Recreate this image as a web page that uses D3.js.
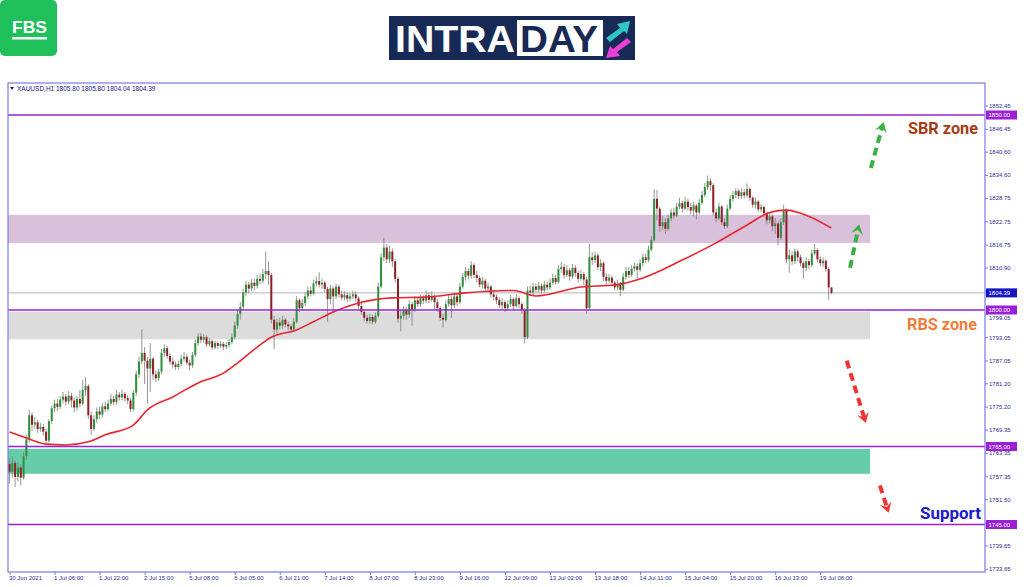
<!DOCTYPE html>
<html>
<head>
<meta charset="utf-8">
<script src="https://cdn.jsdelivr.net/npm/d3@7"></script>
<style>
  body { margin: 0; background: #fff; }
  svg { display: block; font-family: "Liberation Sans", Arial, sans-serif; }
</style>
</head>
<body>
<svg id="chart" width="1024" height="587"></svg>
<script>
//----------------data (XAUUSD H1)--------------//
const firstOpen = 1760.5;
const closes = [
  1758.5,1760.8,1757.2,1759.6,1757.0,1762.5,1766.8,1773.0,1770.6,1771.2,
  1769.5,1770.0,1768.8,1766.5,1771.5,1774.8,1776.0,1775.2,1777.0,1777.8,
  1776.5,1778.0,1776.8,1775.0,1777.2,1776.0,1779.5,1780.5,1773.0,1769.5,
  1772.0,1774.0,1773.2,1775.3,1774.6,1776.0,1777.2,1776.4,1778.3,1777.6,
  1778.5,1777.4,1776.8,1774.6,1778.8,1783.5,1786.8,1789.0,1787.0,1785.0,
  1787.5,1783.5,1782.5,1784.2,1789.0,1790.2,1788.2,1786.8,1786.0,1785.4,
  1786.2,1787.5,1788.0,1786.5,1785.8,1788.5,1791.5,1793.2,1792.4,1793.0,
  1791.2,1792.0,1790.4,1791.5,1790.8,1791.3,1790.6,1791.0,1791.8,1793.0,
  1796.0,1799.0,1800.8,1804.5,1806.5,1805.5,1807.0,1806.2,1808.0,1807.5,
  1809.2,1810.0,1809.0,1797.5,1795.0,1796.8,1796.0,1797.5,1796.3,1795.8,
  1795.0,1797.0,1802.5,1800.5,1801.8,1803.5,1805.0,1804.2,1806.8,1807.4,
  1806.5,1807.0,1805.4,1802.8,1805.5,1803.5,1806.0,1804.0,1803.2,1803.8,
  1802.9,1803.5,1804.0,1803.0,1801.0,1799.5,1798.0,1797.2,1798.2,1797.0,
  1798.5,1806.0,1813.5,1816.0,1813.0,1815.0,1812.5,1808.0,1797.8,1798.5,
  1800.0,1798.8,1801.5,1800.2,1802.5,1801.5,1803.0,1802.4,1803.8,1802.6,
  1803.5,1802.0,1800.5,1798.0,1797.5,1801.5,1802.8,1801.2,1803.5,1802.0,
  1806.0,1808.5,1810.0,1808.8,1811.5,1809.0,1808.2,1806.5,1807.5,1805.5,
  1806.0,1804.0,1803.4,1802.5,1801.2,1802.0,1800.5,1801.5,1802.8,1801.0,
  1803.0,1801.5,1800.0,1793.0,1805.0,1804.5,1806.0,1805.2,1806.2,1805.0,
  1806.5,1805.8,1807.0,1808.2,1807.2,1810.5,1811.0,1809.0,1810.2,1808.6,
  1810.8,1809.5,1808.0,1809.2,1807.8,1800.5,1813.5,1812.8,1814.0,1811.0,
  1812.0,1808.5,1807.5,1808.3,1807.0,1805.8,1806.8,1805.2,1808.5,1810.0,
  1809.0,1810.6,1811.2,1810.3,1812.0,1813.5,1812.8,1815.5,1818.0,1828.5,
  1826.0,1821.5,1822.5,1820.8,1823.5,1825.0,1824.2,1826.5,1827.4,1826.0,
  1827.8,1826.4,1825.5,1826.8,1825.0,1827.5,1829.5,1831.5,1833.0,1832.0,
  1825.0,1823.5,1826.5,1822.5,1821.5,1826.0,1828.5,1829.5,1830.5,1829.2,
  1830.2,1829.4,1831.0,1828.8,1827.0,1827.8,1825.8,1826.4,1824.8,1823.0,
  1824.0,1821.5,1822.2,1818.5,1822.5,1825.5,1813.0,1814.0,1812.5,1815.0,
  1813.5,1812.0,1810.8,1812.5,1811.5,1814.5,1815.4,1813.0,1812.0,1812.6,
  1810.5,1805.8,1804.39
];
const highs = [
  1762.0,1762.5,1761.5,1761.0,1760.5,1763.5,1768.0,1774.4,1773.8,1772.5,
  1771.8,1771.0,1770.8,1769.5,1772.0,1775.5,1777.0,1777.2,1778.0,1779.0,
  1778.5,1779.2,1778.8,1777.5,1778.0,1779.5,1782.0,1782.8,1781.0,1774.0,
  1773.0,1775.0,1775.2,1776.2,1776.5,1777.0,1778.5,1778.0,1779.5,1779.0,
  1779.6,1779.0,1778.2,1777.5,1779.5,1784.5,1788.0,1795.0,1790.5,1788.0,
  1791.5,1788.0,1784.5,1785.0,1790.0,1791.2,1790.8,1789.0,1787.8,1786.8,
  1787.0,1788.5,1789.2,1788.6,1787.2,1789.2,1792.5,1794.0,1794.0,1793.8,
  1793.5,1792.8,1792.5,1792.2,1792.0,1792.0,1791.8,1791.8,1792.5,1794.0,
  1797.0,1800.0,1802.0,1805.5,1807.5,1807.2,1808.0,1808.0,1809.0,1809.3,
  1810.5,1815.0,1812.5,1809.5,1798.5,1797.8,1798.0,1798.5,1798.0,1797.0,
  1796.5,1798.0,1803.5,1803.0,1802.8,1804.5,1806.0,1806.0,1807.8,1808.5,
  1809.7,1808.0,1807.5,1806.0,1806.5,1806.0,1806.8,1806.5,1805.0,1804.8,
  1804.5,1804.3,1805.0,1804.8,1803.5,1801.8,1800.2,1798.8,1799.0,1798.8,
  1799.3,1807.0,1814.5,1818.5,1817.0,1816.5,1815.8,1813.0,1808.5,1800.0,
  1801.0,1800.8,1802.5,1802.0,1803.5,1803.2,1804.0,1803.8,1805.0,1804.5,
  1804.8,1804.0,1802.8,1801.0,1799.0,1802.5,1803.8,1803.5,1804.5,1804.0,
  1807.0,1809.5,1811.0,1810.8,1812.5,1812.0,1810.0,1808.8,1808.5,1808.0,
  1807.0,1806.5,1805.0,1804.0,1803.2,1803.0,1802.5,1802.5,1803.8,1803.2,
  1804.0,1803.5,1802.0,1800.5,1806.0,1806.2,1807.0,1806.8,1807.2,1806.8,
  1807.5,1807.2,1808.0,1809.2,1809.0,1811.5,1812.3,1811.8,1811.5,1810.8,
  1811.8,1811.5,1810.0,1810.2,1809.8,1808.5,1817.0,1814.8,1815.0,1814.5,
  1813.0,1812.5,1809.5,1809.2,1808.8,1807.5,1807.8,1807.2,1809.5,1811.0,
  1811.0,1811.5,1812.2,1812.0,1813.0,1814.5,1814.5,1816.5,1819.0,1831.0,
  1830.8,1826.5,1824.0,1823.5,1824.5,1826.0,1826.2,1827.5,1828.8,1828.0,
  1829.0,1828.5,1827.5,1827.8,1827.2,1828.5,1830.5,1832.5,1834.5,1833.8,
  1832.5,1826.0,1827.5,1827.0,1823.5,1827.0,1829.5,1830.5,1831.2,1831.0,
  1831.2,1831.0,1832.5,1831.5,1829.2,1828.8,1828.2,1827.2,1826.8,1825.2,
  1825.0,1824.5,1823.5,1822.8,1823.5,1827.0,1826.0,1815.5,1815.0,1815.8,
  1815.5,1814.2,1812.5,1813.5,1813.2,1815.5,1817.0,1815.8,1813.8,1813.5,
  1813.0,1811.0,1805.8
];
const lows = [
  1755.5,1757.0,1754.6,1756.0,1755.0,1756.5,1761.5,1766.0,1769.0,1769.5,
  1768.5,1768.8,1767.8,1765.8,1766.0,1770.8,1773.8,1774.0,1774.5,1776.0,
  1775.5,1775.8,1775.0,1773.8,1774.2,1775.0,1775.5,1778.0,1772.0,1768.0,
  1769.0,1771.0,1772.0,1772.5,1773.8,1774.0,1775.5,1775.6,1775.8,1776.8,
  1776.8,1776.5,1775.8,1773.8,1774.0,1778.0,1782.5,1786.0,1781.0,1776.0,
  1779.0,1782.0,1781.5,1781.8,1783.5,1788.0,1787.5,1786.0,1785.0,1784.6,
  1784.8,1785.5,1786.8,1785.8,1784.5,1785.2,1788.0,1790.8,1791.5,1791.6,
  1790.5,1790.6,1789.8,1790.0,1790.0,1790.2,1789.8,1790.0,1790.4,1791.2,
  1792.5,1795.2,1797.5,1800.0,1803.5,1804.3,1804.8,1805.0,1805.5,1806.5,
  1806.8,1808.0,1806.5,1796.5,1790.0,1794.0,1795.0,1795.2,1795.5,1794.8,
  1794.2,1794.5,1796.5,1799.5,1799.8,1801.0,1802.8,1803.5,1803.8,1806.0,
  1805.8,1805.5,1804.5,1797.0,1801.5,1799.5,1802.8,1803.2,1802.5,1802.5,
  1802.0,1802.2,1802.8,1802.2,1800.2,1798.8,1797.2,1796.5,1796.5,1796.3,
  1796.5,1798.0,1805.5,1812.5,1812.0,1812.0,1811.0,1807.0,1796.8,1794.5,
  1797.5,1797.5,1798.0,1796.0,1799.5,1800.8,1800.8,1801.5,1801.8,1801.8,
  1802.0,1800.0,1799.5,1797.2,1795.5,1797.0,1800.8,1798.0,1800.5,1801.0,
  1801.5,1805.5,1807.5,1807.8,1808.0,1808.2,1807.0,1805.8,1805.5,1804.8,
  1804.5,1803.2,1802.5,1801.5,1800.5,1800.2,1799.5,1799.8,1800.8,1800.0,
  1800.5,1800.5,1799.0,1791.5,1792.5,1803.5,1803.8,1804.5,1804.5,1804.2,
  1804.5,1805.0,1805.2,1806.5,1806.5,1806.8,1809.5,1808.0,1808.5,1807.5,
  1808.0,1808.5,1807.0,1807.5,1806.5,1799.0,1800.0,1811.5,1812.0,1810.2,
  1810.0,1807.5,1806.5,1806.8,1806.0,1805.0,1805.0,1803.5,1804.8,1807.8,
  1808.2,1808.5,1809.8,1808.0,1809.8,1811.2,1812.0,1812.2,1815.0,1817.5,
  1823.0,1820.0,1820.5,1819.5,1820.2,1822.8,1823.5,1823.8,1825.8,1825.0,
  1825.5,1825.5,1824.5,1824.0,1823.2,1824.5,1827.0,1829.0,1830.8,1830.5,
  1824.2,1822.5,1823.0,1821.8,1820.8,1821.0,1825.5,1827.8,1828.8,1828.5,
  1828.5,1828.6,1828.8,1828.0,1826.2,1826.0,1825.0,1825.0,1823.8,1822.0,
  1822.2,1820.2,1819.5,1816.5,1818.0,1821.8,1812.0,1809.5,1811.5,1811.8,
  1812.5,1811.2,1808.0,1810.0,1810.5,1811.0,1814.0,1812.2,1811.2,1811.0,
  1809.8,1802.5,1804.04
];

// moving average read at a few bars (bar index, value)
const maBars   = [0, 6, 13, 20, 28, 34, 44, 49, 58, 67, 76, 81, 88, 93, 102, 108, 115, 124, 136, 148, 162, 179, 187, 203, 215, 225, 239, 251, 262, 270, 276, 284, 292];
const maValues = [1768.7,1767.2,1765.6,1765.4,1766.2,1768.0,1770.5,1774.4,1777.7,1781.3,1783.8,1786.4,1790.5,1793.0,1794.9,1797.0,1799.5,1801.8,1803.1,1803.3,1804.4,1805.0,1803.6,1805.9,1806.4,1808.2,1812.8,1817.2,1821.8,1825.0,1825.6,1824.0,1821.0];

const timeLabels = ["30 Jun 2021","1 Jul 06:00","1 Jul 22:00","2 Jul 15:00","5 Jul 08:00","6 Jul 05:00","6 Jul 21:00","7 Jul 14:00","8 Jul 07:00","8 Jul 23:00","9 Jul 16:00","12 Jul 09:00","13 Jul 02:00","13 Jul 18:00","14 Jul 11:00","15 Jul 04:00","15 Jul 20:00","16 Jul 13:00","19 Jul 06:00"];
const priceTicks = [1852.45,1846.45,1840.60,1834.60,1828.75,1822.75,1816.75,1810.90,1805.05,1799.05,1793.05,1787.05,1781.20,1775.20,1769.35,1763.35,1757.35,1751.50,1745.50,1739.65,1733.65];
const hiddenTicks = [1805.05, 1745.50]; // sit fully under a price box
const levels = [1850, 1800, 1765, 1745];
const lastPrice = 1804.39;
const sbrZone = [1817.2, 1824.4];
const rbsZone = [1792.5, 1799.6];
const supportZone = [1758.0, 1764.4];

//----------------layout--------------//
const svg = d3.select("#chart");
const frameL = 8, frameR = 985, frameT = 83, frameB = 572;
const zoneRight = 870;
const N = closes.length;
const opens = closes.map((c, i) => i === 0 ? firstOpen : closes[i - 1]);

const x = d3.scaleLinear().domain([0, 292]).range([9.5, 831.5]);
const y = d3.scaleLinear().domain([1800, 1850]).range([310, 115]);

const frameColor = "#7b7be0";
const levelColor = "#9b1fd8";
const textBlue = "#2e2e8f";

svg.append("clipPath").attr("id", "plotClip")
  .append("rect").attr("x", frameL).attr("y", frameT).attr("width", frameR - frameL).attr("height", frameB - frameT);
const plot = svg.append("g").attr("clip-path", "url(#plotClip)");

//----------------zones--------------//
const zones = [
  { r: sbrZone, fill: "#d9c0db" },
  { r: rbsZone, fill: "#dcdcdc" },
  { r: supportZone, fill: "#66cdaa" }
];
plot.selectAll("rect.zone").data(zones).join("rect")
  .attr("class", "zone")
  .attr("x", frameL)
  .attr("width", zoneRight - frameL)
  .attr("y", d => y(d.r[1]))
  .attr("height", d => y(d.r[0]) - y(d.r[1]))
  .attr("fill", d => d.fill);

// last price line
plot.append("line")
  .attr("x1", frameL).attr("x2", frameR)
  .attr("y1", y(lastPrice)).attr("y2", y(lastPrice))
  .attr("stroke", "#b4b4b4").attr("stroke-width", 1);

//----------------candles--------------//
const bars = plot.append("g").selectAll("g").data(d3.range(N)).join("g");
bars.append("line")
  .attr("x1", i => x(i)).attr("x2", i => x(i))
  .attr("y1", i => y(highs[i])).attr("y2", i => y(lows[i]))
  .attr("stroke", "#7a7a7a").attr("stroke-width", 0.8);
bars.append("rect")
  .attr("x", i => x(i) - 1)
  .attr("width", 2)
  .attr("y", i => y(Math.max(opens[i], closes[i])))
  .attr("height", i => Math.max(1, Math.abs(y(opens[i]) - y(closes[i]))))
  .attr("fill", i => closes[i] >= opens[i] ? "#2f8f3a" : "#8e1f24");

//----------------moving average--------------//
const maLine = d3.line().x(d => x(d[0])).y(d => y(d[1])).curve(d3.curveMonotoneX);
plot.append("path")
  .datum(maBars.map((b, i) => [b, maValues[i]]))
  .attr("d", maLine)
  .attr("fill", "none").attr("stroke", "#e8262e").attr("stroke-width", 1.6);

// horizontal levels
plot.selectAll("line.level").data(levels).join("line")
  .attr("class", "level")
  .attr("x1", frameL).attr("x2", frameR)
  .attr("y1", d => y(d)).attr("y2", d => y(d))
  .attr("stroke", levelColor).attr("stroke-width", 1.5);

//----------------axes & frame--------------//
svg.append("rect")
  .attr("x", frameL).attr("y", frameT)
  .attr("width", frameR - frameL).attr("height", frameB - frameT)
  .attr("fill", "none").attr("stroke", frameColor).attr("stroke-width", 1.2);

const yAxis = svg.append("g")
  .attr("transform", `translate(${frameR},0)`)
  .call(d3.axisRight(y).tickValues(priceTicks)
    .tickFormat(d => hiddenTicks.includes(d) ? "" : d3.format(".2f")(d))
    .tickSize(3).tickPadding(1));
const xAxis = svg.append("g")
  .attr("transform", `translate(0,${frameB})`)
  .call(d3.axisBottom(x).tickValues(d3.range(0, 289, 16)).tickFormat((d, i) => timeLabels[i]).tickSize(3).tickPadding(1));

[yAxis, xAxis].forEach(ax => {
  ax.select(".domain").remove();
  ax.selectAll(".tick line").attr("stroke", frameColor);
  ax.selectAll(".tick text").attr("fill", textBlue).attr("font-size", 6)
    .attr("font-family", "'Liberation Sans', Arial, sans-serif");
});
xAxis.selectAll(".tick text").attr("text-anchor", "start").attr("dx", -1);
// 1799.05 peeks out just under the 1800 box
yAxis.selectAll(".tick").filter(d => d === 1799.05).select("text").attr("dy", "0.95em");

// price boxes on the axis
const boxes = levels.map(v => ({ v, fill: levelColor, label: v.toFixed(2) }))
  .concat([{ v: lastPrice, fill: "#1414c8", label: lastPrice.toFixed(2) }]);
const boxG = svg.selectAll("g.pbox").data(boxes).join("g").attr("class", "pbox")
  .attr("transform", d => `translate(${frameR + 1},${y(d.v)})`);
boxG.append("rect").attr("x", 0).attr("y", -4.5).attr("width", 31).attr("height", 9).attr("fill", d => d.fill);
boxG.append("text").attr("x", 2.5).attr("y", 2.2).attr("font-size", 6).attr("fill", "#fff").text(d => d.label);

// header line
svg.append("path").attr("d", "M10,87 L14,87 L12,90 Z").attr("fill", "#1a1a80");
svg.append("text").attr("x", 17).attr("y", 91).attr("font-size", 6.5).attr("fill", "#1a1a80")
  .text("XAUUSD,H1  1805.80 1805.80 1804.04 1804.39");

//----------------annotations--------------//
const zoneLabels = [
  { text: "SBR zone", x: 908, y: 134, color: "#a83a12" },
  { text: "RBS zone", x: 907, y: 330, color: "#f27c38" },
  { text: "Support", x: 920, y: 519, color: "#1a1acc" }
];
svg.selectAll("text.zl").data(zoneLabels).join("text")
  .attr("class", "zl")
  .attr("x", d => d.x).attr("y", d => d.y)
  .attr("font-size", 17).attr("font-weight", "bold")
  .attr("font-family", "Roboto, 'Liberation Sans', sans-serif")
  .attr("textLength", d => d.text === "Support" ? 61 : 70)
  .attr("lengthAdjust", "spacingAndGlyphs")
  .attr("fill", d => d.color)
  .text(d => d.text);

// dashed arrows, ends given in (bar, price)
const arrows = [
  { from: [306, 1836.4], to: [310.5, 1848.2], color: "#3bb043" },
  { from: [298.6, 1810.8], to: [301.8, 1822.0], color: "#3bb043" },
  { from: [297.4, 1787.0], to: [304.2, 1771.0], color: "#ee3333" },
  { from: [309.2, 1755.0], to: [312.3, 1748.0], color: "#ee3333" }
];
arrows.forEach(a => {
  const x1 = x(a.from[0]), y1 = y(a.from[1]), x2 = x(a.to[0]), y2 = y(a.to[1]);
  const len = Math.hypot(x2 - x1, y2 - y1);
  const ux = (x2 - x1) / len, uy = (y2 - y1) / len;
  const px = -uy, py = ux;
  svg.append("line")
    .attr("x1", x1).attr("y1", y1)
    .attr("x2", x2 - ux * 6).attr("y2", y2 - uy * 6)
    .attr("stroke", a.color).attr("stroke-width", 4)
    .attr("stroke-dasharray", "8,5");
  const pts = [
    [x2, y2],
    [x2 - ux * 10 + px * 6, y2 - uy * 10 + py * 6],
    [x2 - ux * 6, y2 - uy * 6],
    [x2 - ux * 10 - px * 6, y2 - uy * 10 - py * 6]
  ];
  svg.append("polygon").attr("points", pts.map(p => p.join(",")).join(" ")).attr("fill", a.color);
});

//----------------logos--------------//
svg.append("rect").attr("x", 0).attr("y", 0).attr("width", 57).attr("height", 56).attr("rx", 5).attr("fill", "#1fbf5a");
svg.append("text").attr("x", 12).attr("y", 33).attr("font-size", 17).attr("font-weight", "bold")
  .attr("fill", "#fff").attr("textLength", 35).attr("lengthAdjust", "spacingAndGlyphs").text("FBS");
svg.append("rect").attr("x", 12).attr("y", 37).attr("width", 35).attr("height", 2.5).attr("fill", "#fff");

const banner = svg.append("g");
banner.append("rect").attr("x", 389).attr("y", 16).attr("width", 246).attr("height", 44).attr("fill", "#172a56");
banner.append("text").attr("x", 395).attr("y", 52).attr("font-size", 36).attr("font-weight", "bold")
  .attr("fill", "#fff").attr("textLength", 120).attr("lengthAdjust", "spacingAndGlyphs").text("INTRA");
banner.append("rect").attr("x", 517).attr("y", 20).attr("width", 86).attr("height", 36).attr("fill", "#fff");
banner.append("text").attr("x", 520).attr("y", 52).attr("font-size", 36).attr("font-weight", "bold")
  .attr("fill", "#172a56").attr("textLength", 78).attr("lengthAdjust", "spacingAndGlyphs").text("DAY");
banner.append("path").attr("d", "M606,38 L620,28 L617,24 L630,21 L627,34 L624,31 L610,42 Z").attr("fill", "#2ec6c8");
banner.append("path").attr("d", "M631,42 L617,52 L620,56 L606,58 L610,46 L613,49 L627,38 Z").attr("fill", "#ea3fd9");
</script>
</body>
</html>
